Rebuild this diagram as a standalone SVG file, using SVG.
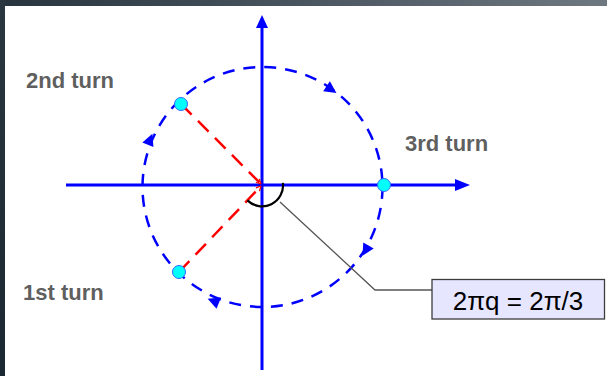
<svg xmlns="http://www.w3.org/2000/svg" width="607" height="376" viewBox="0 0 607 376">
  <defs>
    <linearGradient id="topg" x1="0" y1="0" x2="1" y2="0">
      <stop offset="0" stop-color="#27333d"/>
      <stop offset="1" stop-color="#6d7881"/>
    </linearGradient>
    <linearGradient id="leftg" x1="0" y1="0" x2="0" y2="1">
      <stop offset="0" stop-color="#2a3640"/>
      <stop offset="1" stop-color="#1a2833"/>
    </linearGradient>
    <marker id="redhead" viewBox="0 0 10 10" refX="9" refY="5" markerWidth="6" markerHeight="6" orient="auto" markerUnits="userSpaceOnUse">
      <path d="M1,1 L9,5 L1,9" fill="none" stroke="#ff0000" stroke-width="2"/>
    </marker>
    <style>
      .axis { stroke: #0000ff; stroke-width: 3; fill: none; }
      .axhead { fill: #0000ff; }
      .orbit { stroke: #0000ff; stroke-width: 2.5; fill: none; stroke-dasharray: 12 9; }
      .radius { stroke: #ff0000; stroke-width: 2.5; fill: none; stroke-dasharray: 15 9; }
      .dot { fill: #00ffff; stroke: #3366ff; stroke-width: 1; }
      .dir { fill: #0000ff; }
      .label { font-family: "Liberation Sans", Arial, sans-serif; font-weight: bold; font-size: 22px; fill: #5f5f5f; }
      .formula { font-family: "Liberation Sans", Arial, sans-serif; font-size: 26px; fill: #000; }
    </style>
  </defs>

  <rect x="0" y="0" width="607" height="376" fill="#ffffff"/>
  <rect x="0" y="0" width="607" height="6" fill="url(#topg)"/>
  <rect x="0" y="0" width="5" height="376" fill="url(#leftg)"/>

  <g id="axes">
    <line class="axis" x1="66" y1="185" x2="458" y2="185"/>
    <polygon class="axhead" points="470,185 455,179 455,191"/>
    <line class="axis" x1="262" y1="370" x2="262" y2="26"/>
    <polygon class="axhead" points="262,15 256,28 268,28"/>
  </g>

  <g id="orbit">
    <circle class="orbit" cx="262.5" cy="187" r="120"/>
    <polygon class="dir" points="-3,-6 9,0 -3,6" transform="translate(329,88) rotate(34)"/>
    <polygon class="dir" points="-3,-6 9,0 -3,6" transform="translate(367,248) rotate(120)"/>
    <polygon class="dir" points="-3,-6 9,0 -3,6" transform="translate(216,302) rotate(202)"/>
    <polygon class="dir" points="-3,-6 9,0 -3,6" transform="translate(149,142) rotate(292)"/>
  </g>

  <g id="connectors">
    <line class="radius" x1="181" y1="104" x2="261" y2="184" marker-end="url(#redhead)"/>
    <line class="radius" x1="179" y1="272" x2="261" y2="186" marker-end="url(#redhead)"/>
    <path d="M282.9,182.8 A21 21 0 0 1 247.4,200.4" fill="none" stroke="#000" stroke-width="2.2"/>
    <polyline points="280,202 375,290 432,290" fill="none" stroke="#555555" stroke-width="1.3"/>
  </g>

  <g id="dot-2nd"><circle class="dot" cx="181" cy="104" r="6.5"/></g>
  <g id="dot-1st"><circle class="dot" cx="179" cy="272" r="6.5"/></g>
  <g id="dot-3rd"><circle class="dot" cx="384" cy="185" r="6.5"/></g>

  <g id="label-2nd"><text class="label" x="26" y="87.5">2nd turn</text></g>
  <g id="label-1st"><text class="label" x="23" y="300">1st turn</text></g>
  <g id="label-3rd"><text class="label" x="405" y="151">3rd turn</text></g>

  <g id="formula-box">
    <rect x="432" y="279.5" width="172.5" height="39.5" fill="#e6e6ff" stroke="#3c3c3c" stroke-width="1.3"/>
    <text class="formula" x="518" y="310" text-anchor="middle">2πq = 2π/3</text>
  </g>
</svg>
